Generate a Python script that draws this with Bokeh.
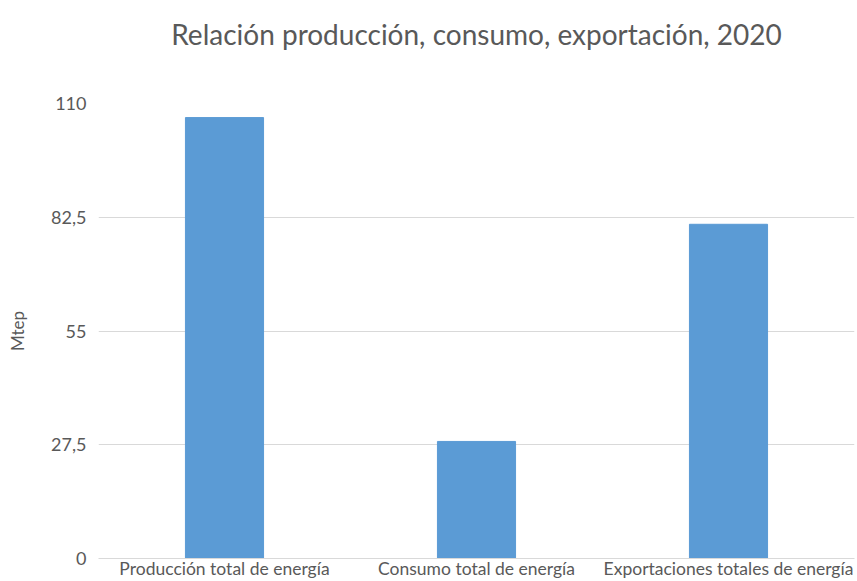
from bokeh.plotting import figure
from bokeh.models import FixedTicker, CustomJSTickFormatter, Range1d, Title
from bokeh.embed import file_html
from bokeh.resources import INLINE

categories = ["Producción total de energía", "Consumo total de energía", "Exportaciones totales de energía"]
values = [106.6, 28.3, 80.8]
y_ticks = [0, 27.5, 55, 82.5, 110]
title_text = "Relación producción, consumo, exportación, 2020"

FONT = "Lato"
GREY = "#595959"

p = figure(x_range=categories, y_range=Range1d(0, 110), width=857, height=581,
           output_backend="svg", toolbar_location=None, title=None)
p.min_border_left = 98
p.min_border_right = 3
p.min_border_top = 0
p.min_border_bottom = 0

# spacer between title and plot frame (added first -> closest to frame)
spacer = Title(text=" ", text_font=FONT, text_font_size="28px", standoff=3)
p.add_layout(spacer, "above")
main_title = Title(text=title_text, text_font=FONT, text_font_size="28px",
                   text_font_style="normal", text_color=GREY, align="center", standoff=28)
p.add_layout(main_title, "above")

p.vbar(x=categories, top=values, width=0.31, color="#5b9bd5", line_color="#5b9bd5")

p.outline_line_color = None
p.xgrid.grid_line_color = None
p.ygrid.grid_line_color = "#d9d9d9"
p.ygrid.grid_line_width = 1

p.yaxis.ticker = FixedTicker(ticks=y_ticks)
p.yaxis.formatter = CustomJSTickFormatter(code="return tick.toString().replace('.', ',');")
p.yaxis.axis_line_color = None
p.yaxis.major_tick_line_color = None
p.yaxis.minor_tick_line_color = None
p.yaxis.major_label_text_font = FONT
p.yaxis.major_label_text_font_size = "18px"
p.yaxis.major_label_text_color = GREY
p.yaxis.major_label_standoff = 6
p.yaxis.axis_label = "Mtep"
p.yaxis.axis_label_text_font = FONT
p.yaxis.axis_label_text_font_size = "17px"
p.yaxis.axis_label_text_font_style = "normal"
p.yaxis.axis_label_text_color = GREY
p.yaxis.axis_label_standoff = 20

p.xaxis.axis_line_color = "#d9d9d9"
p.xaxis.major_tick_line_color = None
p.xaxis.minor_tick_line_color = None
p.xaxis.major_label_text_font = FONT
p.xaxis.major_label_text_font_size = "17.5px"
p.xaxis.major_label_text_color = GREY
p.xaxis.major_label_standoff = -7

p.x_range.range_padding = 0

open("out.html", "w").write(file_html(p, INLINE))
